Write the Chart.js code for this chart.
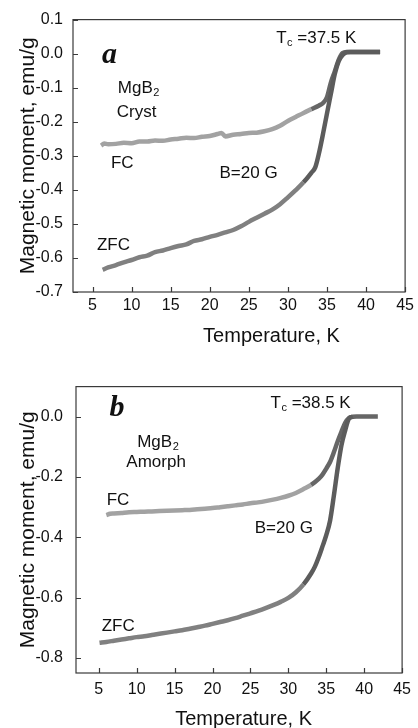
<!DOCTYPE html>
<html>
<head>
<meta charset="utf-8">
<script src="https://cdn.jsdelivr.net/npm/chart.js@4.4.1/dist/chart.umd.min.js"></script>
<style>
  html, body { margin: 0; padding: 0; background: #fff; }
  .painel { position: relative; width: 418px; height: 364px; }
</style>
</head>
<body>
<div class="painel"><canvas id="grafA" width="418" height="364"></canvas></div>
<div class="painel"><canvas id="grafB" width="418" height="364"></canvas></div>
<script>
// valores: temperatura (K) e momento magnetico (emu/g)

// painel a - MgB2 cristalino
const tempFcA = [6.1, 6.5, 7, 8, 9, 10, 11, 12, 13, 14, 15, 16, 17, 18, 19, 20, 21, 21.5, 22, 23, 24, 25, 26, 27, 28, 29, 30, 31, 32, 33, 34, 34.5, 35, 35.5, 36, 36.5, 37, 37.5, 38, 39, 40, 41, 41.8];
const momFcA = [-0.270, -0.264, -0.266, -0.265, -0.262, -0.263, -0.258, -0.258, -0.255, -0.256, -0.252, -0.250, -0.247, -0.248, -0.244, -0.242, -0.236, -0.233, -0.243, -0.238, -0.236, -0.233, -0.232, -0.228, -0.222, -0.212, -0.198, -0.186, -0.174, -0.163, -0.152, -0.145, -0.128, -0.085, -0.052, -0.018, 0.002, 0.005, 0.005, 0.005, 0.005, 0.005, 0.005];

const tempZfcA = [6.3, 7, 8, 9, 10, 11, 12, 13, 14, 15, 16, 17, 18, 19, 20, 21, 22, 23, 24, 25, 26, 27, 28, 29, 30, 31, 32, 33, 33.5, 34, 34.5, 35, 35.5, 36, 36.5, 37, 37.5, 38, 39, 40, 41, 41.8];
const momZfcA = [-0.635, -0.628, -0.621, -0.613, -0.606, -0.598, -0.593, -0.583, -0.578, -0.571, -0.565, -0.560, -0.550, -0.545, -0.538, -0.532, -0.525, -0.518, -0.507, -0.494, -0.482, -0.470, -0.458, -0.442, -0.422, -0.401, -0.378, -0.350, -0.334, -0.290, -0.235, -0.176, -0.118, -0.060, -0.022, -0.004, 0.004, 0.005, 0.005, 0.005, 0.005, 0.005];

// painel b - MgB2 amorfo
const tempFcB = [6.0, 6.5, 7, 8, 9, 10, 11, 12, 13, 14, 15, 16, 17, 18, 19, 20, 21, 22, 23, 24, 25, 26, 27, 28, 29, 30, 31, 32, 33, 34, 34.5, 35, 35.5, 36, 36.5, 37, 37.5, 38, 38.5, 39, 40, 41, 41.8];
const momFcB = [-0.326, -0.322, -0.321, -0.319, -0.317, -0.316, -0.315, -0.314, -0.313, -0.312, -0.311, -0.310, -0.309, -0.307, -0.305, -0.303, -0.300, -0.297, -0.294, -0.291, -0.287, -0.284, -0.280, -0.275, -0.269, -0.262, -0.253, -0.240, -0.226, -0.206, -0.192, -0.172, -0.150, -0.118, -0.082, -0.050, -0.020, -0.004, 0.000, 0.001, 0.001, 0.001, 0.001];

const tempZfcB = [5.1, 6, 7, 8, 9, 10, 11, 12, 13, 14, 15, 16, 17, 18, 19, 20, 21, 22, 23, 24, 25, 26, 27, 28, 29, 30, 31, 32, 33, 33.5, 34, 34.5, 35, 35.5, 36, 36.5, 37, 37.5, 38, 38.5];
const momZfcB = [-0.750, -0.747, -0.743, -0.739, -0.735, -0.731, -0.728, -0.724, -0.720, -0.716, -0.712, -0.708, -0.703, -0.698, -0.693, -0.687, -0.681, -0.675, -0.668, -0.660, -0.652, -0.644, -0.635, -0.625, -0.614, -0.601, -0.582, -0.556, -0.520, -0.497, -0.466, -0.430, -0.393, -0.345, -0.262, -0.172, -0.095, -0.045, -0.006, 0.000];

// marcas dos eixos
const ticksTemp = [5, 10, 15, 20, 25, 30, 35, 40, 45];
const ticksMomA = [-0.7, -0.6, -0.5, -0.4, -0.3, -0.2, -0.1, 0.0, 0.1];
const ticksMomB = [-0.8, -0.6, -0.4, -0.2, 0.0];

const FONTE = '"Liberation Sans", Arial, sans-serif';

const pontos = (xs, ys) => xs.map((x, i) => ({x: x, y: ys[i]}));

// moldura, marcas para dentro e textos do painel
const moldura = {
  id: 'moldura',
  afterDraw(chart) {
    const {ctx, chartArea: a, scales: {x, y}} = chart;
    const extra = chart.options.plugins.moldura;
    ctx.save();
    ctx.strokeStyle = '#3a3a3a';
    ctx.lineWidth = 1.2;
    ctx.strokeRect(a.left, a.top, a.right - a.left, a.bottom - a.top);
    ctx.beginPath();
    x.ticks.forEach(t => {
      const px = Math.round(x.getPixelForValue(t.value)) + 0.5;
      ctx.moveTo(px, a.bottom); ctx.lineTo(px, a.bottom - 5);
    });
    y.ticks.forEach(t => {
      const py = Math.round(y.getPixelForValue(t.value)) + 0.5;
      ctx.moveTo(a.left, py); ctx.lineTo(a.left + 5, py);
    });
    ctx.stroke();

    ctx.fillStyle = '#111';
    ctx.textBaseline = 'alphabetic';
    // letra do painel
    ctx.font = 'italic bold 30px "Liberation Serif", "Times New Roman", serif';
    ctx.textAlign = 'left';
    ctx.fillText(extra.letra.t, x.getPixelForValue(extra.letra.x), y.getPixelForValue(extra.letra.y));

    // anotacoes (com indice opcional)
    extra.textos.forEach(n => {
      let px = x.getPixelForValue(n.x);
      const py = y.getPixelForValue(n.y);
      ctx.font = '17px ' + FONTE;
      ctx.fillText(n.t, px, py);
      px += ctx.measureText(n.t).width;
      if (n.sub) {
        ctx.font = '11px ' + FONTE;
        ctx.fillText(n.sub, px + 0.5, py + 3);
        px += ctx.measureText(n.sub).width + 0.5;
        ctx.font = '17px ' + FONTE;
        ctx.fillText(n.resto || '', px, py);
      }
    });

    // titulo do eixo x
    ctx.font = '20px ' + FONTE;
    ctx.textAlign = 'center';
    ctx.fillText('Temperature, K', x.getPixelForValue(extra.tituloX), a.bottom + extra.tituloXdy);
    ctx.restore();
  }
};

function montaGrafico(id, cfg) {
  return new Chart(document.getElementById(id), {
    type: 'scatter',
    data: {
      datasets: [
        {
          label: 'ZFC',
          data: pontos(cfg.tZfc, cfg.mZfc),
          showLine: true,
          borderColor: '#808080',
          borderWidth: 4.5,
          pointRadius: 0,
          cubicInterpolationMode: 'monotone',
          segment: { borderColor: c => c.p0.parsed.x >= 32 ? '#5c5c5c' : undefined }
        },
        {
          label: 'FC',
          data: pontos(cfg.tFc, cfg.mFc),
          showLine: true,
          borderColor: '#a2a2a2',
          borderWidth: 4.5,
          pointRadius: 0,
          cubicInterpolationMode: 'monotone',
          segment: { borderColor: c => c.p0.parsed.x >= 33 ? '#666' : undefined }
        }
      ]
    },
    options: {
      responsive: false,
      animation: false,
      layout: { padding: { top: cfg.topo, right: 12, left: 0, bottom: 0 } },
      plugins: {
        legend: { display: false },
        tooltip: { enabled: false },
        moldura: cfg.extra
      },
      scales: {
        x: {
          type: 'linear',
          min: cfg.xMin,
          max: 45,
          afterBuildTicks: s => { s.ticks = ticksTemp.map(v => ({value: v})); },
          afterFit: s => { s.height = cfg.alturaX; },
          grid: { display: false, drawTicks: false },
          border: { display: false },
          ticks: { padding: cfg.padX, color: '#111', font: { family: FONTE, size: 16 }, maxRotation: 0 }
        },
        y: {
          type: 'linear',
          min: cfg.yMin,
          max: cfg.yMax,
          afterBuildTicks: s => { s.ticks = cfg.yTicks.map(v => ({value: v})); },
          afterFit: s => { s.width = cfg.larguraY; },
          grid: { display: false, drawTicks: false },
          border: { display: false },
          ticks: {
            padding: cfg.padY, color: '#111', font: { family: FONTE, size: 16 },
            callback: v => v.toFixed(1)
          },
          title: {
            display: true,
            text: 'Magnetic moment, emu/g',
            color: '#111',
            font: { family: FONTE, size: 21 },
            padding: { top: 16, bottom: 0 }
          }
        }
      }
    },
    plugins: [moldura]
  });
}

montaGrafico('grafA', {
  tFc: tempFcA, mFc: momFcA, tZfc: tempZfcA, mZfc: momZfcA,
  xMin: 2.5, yMin: -0.7, yMax: 0.1, yTicks: ticksMomA,
  topo: 19, alturaX: 72, larguraY: 73, padX: 4, padY: 10,
  extra: {
    letra: { t: 'a', x: 6.2, y: -0.028 },
    textos: [
      { t: 'T', sub: 'c', resto: ' =37.5 K', x: 28.5, y: 0.031 },
      { t: 'MgB', sub: '2', x: 8.24, y: -0.115 },
      { t: 'Cryst', x: 8.1, y: -0.186 },
      { t: 'FC', x: 7.35, y: -0.335 },
      { t: 'B=20 G', x: 21.25, y: -0.365 },
      { t: 'ZFC', x: 5.56, y: -0.576 }
    ],
    tituloX: 27.9, tituloXdy: 50
  }
});

montaGrafico('grafB', {
  tFc: tempFcB, mFc: momFcB, tZfc: tempZfcB, mZfc: momZfcB,
  xMin: 2, yMin: -0.85, yMax: 0.1, yTicks: ticksMomB,
  topo: 11, alturaX: 55, larguraY: 76, padX: 7, padY: 13,
  extra: {
    letra: { t: 'b', x: 6.43, y: 0.002 },
    textos: [
      { t: 'T', sub: 'c', resto: ' =38.5 K', x: 27.65, y: 0.028 },
      { t: 'MgB', sub: '2', x: 10.07, y: -0.099 },
      { t: 'Amorph', x: 8.64, y: -0.166 },
      { t: 'FC', x: 6.04, y: -0.293 },
      { t: 'B=20 G', x: 25.57, y: -0.385 },
      { t: 'ZFC', x: 5.39, y: -0.711 }
    ],
    tituloX: 24.1, tituloXdy: 52
  }
});
</script>
</body>
</html>
